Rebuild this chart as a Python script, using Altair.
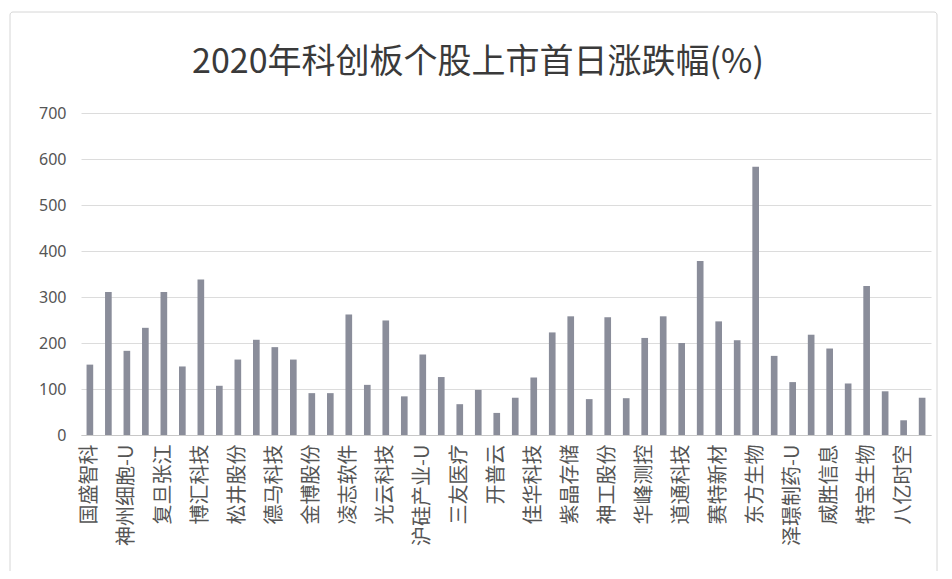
import altair as alt
import pandas as pd

# Every other category label (Excel shows labels for bars 1,3,5,...)
labels = ["国盛智科", "神州细胞-U", "复旦张江", "博汇科技", "松井股份", "德马科技",
          "金博股份", "凌志软件", "光云科技", "沪硅产业-U", "三友医疗", "开普云",
          "佳华科技", "紫晶存储", "神工股份", "华峰测控", "道通科技", "赛特新材",
          "东方生物", "泽璟制药-U", "威胜信息", "特宝生物", "八亿时空"]

values = [153, 311, 183, 233, 311, 149, 338, 107, 164, 207, 191, 164, 91, 91, 262,
          109, 249, 84, 175, 126, 67, 98, 48, 81, 125, 223, 258, 78, 256,
          80, 211, 258, 200, 378, 247, 206, 583, 172, 115, 218, 188, 112, 324, 95, 32, 81]

y_ticks = [0, 100, 200, 300, 400, 500, 600, 700]

title_text = "2020年科创板个股上市首日涨跌幅(%)"

tick_text = [labels[i // 2] if i % 2 == 0 else "" for i in range(len(values))]
df = pd.DataFrame({"idx": list(range(len(values))), "value": values})

label_expr = "[" + ",".join("'" + t + "'" for t in tick_text) + "][datum.value]"

FONT = "Noto Sans CJK SC"

bars = alt.Chart(df).mark_bar(color="#8a8d9a").encode(
    x=alt.X("idx:O",
            scale=alt.Scale(paddingInner=0.64, paddingOuter=0.3),
            axis=alt.Axis(title=None, labelExpr=label_expr, labelAngle=-90,
                          labelFontSize=20, labelColor="#555555", labelFont=FONT,
                          labelPadding=9, ticks=False, domain=True,
                          domainColor="#c8c8c8", domainWidth=1, grid=False,
                          labelOverlap=False)),
    y=alt.Y("value:Q",
            scale=alt.Scale(domain=[0, 700], nice=False),
            axis=alt.Axis(title=None, values=y_ticks, labelFontSize=16,
                          labelColor="#555555", labelFont="Noto Sans",
                          labelPadding=15, ticks=False, domain=False,
                          gridColor="#dcdcdc", gridWidth=1)),
)

border = alt.Chart(pd.DataFrame({"a": [0]})).mark_rect(
    fill=None, stroke="#d6d6d6", strokeWidth=1, cornerRadius=3, clip=False
).encode(x=alt.value(-71), x2=alt.value(856), y=alt.value(-101), y2=alt.value(480))

title = alt.Chart(pd.DataFrame({"t": [title_text]})).mark_text(
    font=FONT, fontSize=34, color="#3a3a3a", align="center", baseline="middle"
).encode(text="t:N", x=alt.value(397), y=alt.value(-50))

chart = alt.layer(border, bars, title).properties(
    width=850, height=322,
    background="#ffffff",
    autosize=alt.AutoSizeParams(type="none"),
    padding={"left": 73, "top": 105, "right": 13, "bottom": 136},
).configure_view(stroke=None)

chart.save("out.html", embed_options={"renderer": "svg", "actions": False})
